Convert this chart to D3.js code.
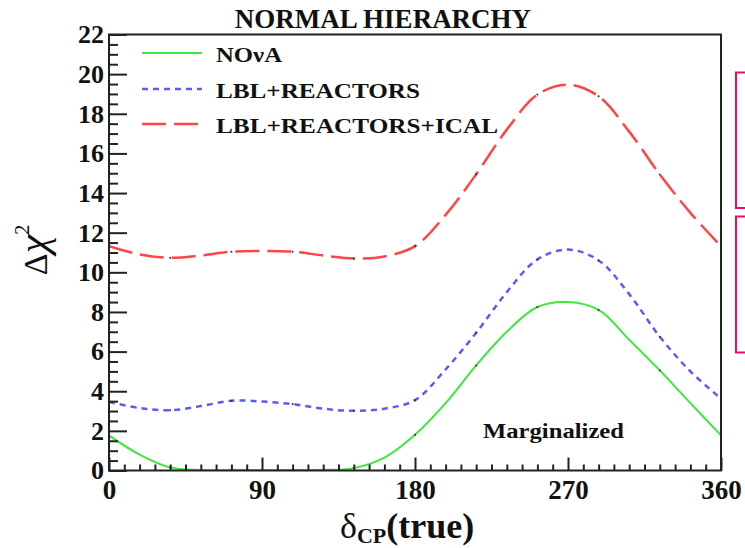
<!DOCTYPE html>
<html lang="en">
<head>
<meta charset="UTF-8">
<title>Delta chi2 vs deltaCP</title>
<style>
  body { margin: 0; background: #fff; }
  text { font-family: "Liberation Serif", "Times New Roman", serif; }
</style>
</head>
<body>
<script src="https://d3js.org/d3.v7.min.js"></script>
<script>
const width = 745
const height = 548

// delta_CP (true) sampled every 18 degrees
const deltaCP = [0, 18, 36, 54, 72, 90, 108, 126, 144, 162, 180, 198, 216, 234, 252, 270, 288, 306, 324, 342, 360]
const nova = [1.77, 0.8, 0.15, 0.03, 0.02, 0.02, 0.02, 0.03, 0.12, 0.65, 1.8, 3.4, 5.3, 7.0, 8.25, 8.5, 8.1, 6.6, 5.05, 3.4, 1.77]
const lblReactors = [3.46, 3.15, 3.04, 3.25, 3.52, 3.48, 3.35, 3.12, 3.01, 3.12, 3.55, 5.1, 6.95, 9.0, 10.65, 11.15, 10.6, 8.9, 6.75, 5.0, 3.63]
const lblReactorsIcal = [11.32, 10.9, 10.73, 10.85, 11.04, 11.08, 11.04, 10.85, 10.7, 10.8, 11.32, 12.9, 14.95, 17.2, 18.97, 19.47, 18.88, 17.1, 14.94, 13.0, 11.32]

const seriesNames = ['NO\u03bdA', 'LBL+REACTORS', 'LBL+REACTORS+ICAL']
const xTicks = [0, 90, 180, 270, 360]
const yTicks = [0, 2, 4, 6, 8, 10, 12, 14, 16, 18, 20, 22]

const plotL = 109, plotR = 721, plotT = 34.5, plotB = 470.5

const x = d3.scaleLinear().domain([0, 360]).range([plotL, plotR])
const y = d3.scaleLinear().domain([0, 22]).range([plotB, plotT])

const svg = d3.select('body').append('svg')
  .attr('width', width)
  .attr('height', height)

// title
svg.append('text')
  .attr('x', 383).attr('y', 28)
  .attr('text-anchor', 'middle')
  .attr('font-weight', 'bold')
  .attr('font-size', 27)
  .attr('fill', '#111')
  .text('NORMAL HIERARCHY')

// side boxes, cut off by the page edge
svg.append('rect').attr('x', 736).attr('y', 72.5).attr('width', 30).attr('height', 135.5)
  .attr('fill', 'none').attr('stroke', '#ee0a6a').attr('stroke-width', 2)
svg.append('rect').attr('x', 736).attr('y', 216.5).attr('width', 30).attr('height', 136)
  .attr('fill', 'none').attr('stroke', '#ee0a6a').attr('stroke-width', 2)

svg.append('clipPath').attr('id', 'plot')
  .append('rect').attr('x', plotL).attr('y', plotT).attr('width', plotR - plotL).attr('height', plotB - plotT)

const series = [
  { name: seriesNames[0], values: nova, color: '#3fe83f', dash: null, w: 2 },
  { name: seriesNames[1], values: lblReactors, color: '#5a5aff', dash: '6,5', w: 2.5 },
  { name: seriesNames[2], values: lblReactorsIcal, color: '#ff4545', dash: '24,8', w: 2.5 }
]

const line = d3.line()
  .x((d, i) => x(deltaCP[i]))
  .y(d => y(d))
  .curve(d3.curveCatmullRom.alpha(0.5))

const plot = svg.append('g').attr('clip-path', 'url(#plot)')

series.forEach(s => {
  plot.append('path')
    .attr('d', line(s.values))
    .attr('fill', 'none')
    .attr('stroke', s.color)
    .attr('stroke-width', s.w)
    .attr('stroke-dasharray', s.dash)
  // small markers at the computed points (every 36 deg)
  plot.selectAll(null)
    .data(s.values.filter((d, i) => i % 2 === 0))
    .enter().append('circle')
    .attr('cx', (d, i) => x(deltaCP[i * 2]))
    .attr('cy', d => y(d))
    .attr('r', 1)
    .attr('fill', '#333')
})

// minor ticks
const minorY = d3.range(0, 22.01, 0.5).filter(v => v % 2 !== 0)
const minorX = d3.range(0, 361, 9).filter(v => v % 90 !== 0)

svg.append('g')
  .attr('transform', `translate(${plotL},0)`)
  .call(d3.axisLeft(y).tickValues(minorY).tickSize(-9).tickFormat(''))
  .call(g => g.select('.domain').remove())
  .call(g => g.selectAll('line').attr('stroke', '#222').attr('stroke-width', 2))

svg.append('g')
  .attr('transform', `translate(0,${plotB})`)
  .call(d3.axisBottom(x).tickValues(minorX).tickSize(-6).tickFormat(''))
  .call(g => g.select('.domain').remove())
  .call(g => g.selectAll('line').attr('stroke', '#222').attr('stroke-width', 2))

// major ticks with labels
svg.append('g')
  .attr('transform', `translate(${plotL},0)`)
  .call(d3.axisLeft(y).tickValues(yTicks).tickSize(-18).tickPadding(5))
  .call(g => g.select('.domain').remove())
  .call(g => g.selectAll('line').attr('stroke', '#222').attr('stroke-width', 2))
  .call(g => g.selectAll('text')
    .attr('font-family', 'Liberation Serif')
    .attr('font-weight', 'bold')
    .attr('font-size', 26)
    .attr('fill', '#111'))

svg.append('g')
  .attr('transform', `translate(0,${plotB})`)
  .call(d3.axisBottom(x).tickValues(xTicks).tickSize(-13).tickPadding(9))
  .call(g => g.select('.domain').remove())
  .call(g => g.selectAll('line').attr('stroke', '#222').attr('stroke-width', 2))
  .call(g => g.selectAll('text')
    .attr('font-family', 'Liberation Serif')
    .attr('font-weight', 'bold')
    .attr('font-size', 27)
    .attr('fill', '#111'))

// frame
svg.append('rect')
  .attr('x', plotL).attr('y', plotT)
  .attr('width', plotR - plotL).attr('height', plotB - plotT)
  .attr('fill', 'none')
  .attr('stroke', '#222')
  .attr('stroke-width', 2)

// legend
const legendY = [53, 89, 124]
const legendW = [66, 204, 282]
series.forEach((s, i) => {
  svg.append('line')
    .attr('x1', 142).attr('x2', 202)
    .attr('y1', legendY[i]).attr('y2', legendY[i])
    .attr('stroke', s.color)
    .attr('stroke-width', s.w)
    .attr('stroke-dasharray', s.dash)
  svg.append('text')
    .attr('x', 216).attr('y', legendY[i] + 9)
    .attr('font-weight', 'bold')
    .attr('font-size', 21)
    .attr('fill', '#111')
    .attr('textLength', legendW[i])
    .attr('lengthAdjust', 'spacingAndGlyphs')
    .text(s.name)
})

svg.append('text')
  .attr('x', 483).attr('y', 438)
  .attr('font-weight', 'bold')
  .attr('font-size', 22)
  .attr('fill', '#111')
  .attr('textLength', 141)
  .attr('lengthAdjust', 'spacingAndGlyphs')
  .text('Marginalized')

// x axis title
const xt = svg.append('text')
  .attr('x', 340).attr('y', 538)
  .attr('fill', '#111')
xt.append('tspan').attr('font-size', 36).text('\u03b4')
xt.append('tspan').attr('font-size', 22).attr('font-weight', 'bold').attr('dy', 5).text('CP')
xt.append('tspan').attr('font-size', 36).attr('font-weight', 'bold').attr('dy', -5).text('(true)')

// y axis title
const yt = svg.append('text')
  .attr('transform', 'translate(47,250) rotate(-90)')
  .attr('text-anchor', 'middle')
  .attr('fill', '#111')
yt.append('tspan').attr('font-size', 34).text('\u0394')
yt.append('tspan').attr('font-size', 42).attr('font-style', 'italic').text('\u03c7')
yt.append('tspan').attr('font-size', 20).attr('dy', -18).text('2')
</script>
</body>
</html>
